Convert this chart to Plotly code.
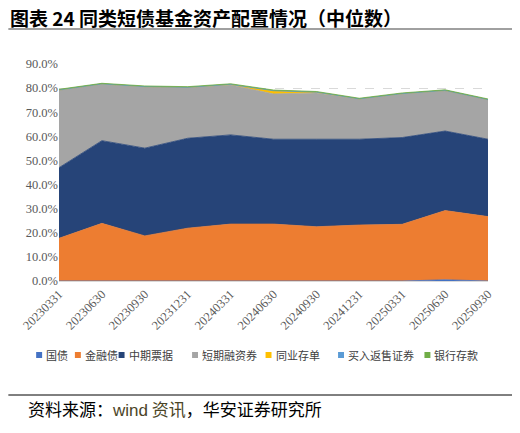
import plotly.graph_objects as go

dates = ["20230331", "20230630", "20230930", "20231231", "20240331", "20240630",
         "20240930", "20241231", "20250331", "20250630", "20250930"]

# median allocation, percent
guozhai = [0.0, 0.0, 0.0, 0.0, 0.0, 0.0, 0.0, 0.0, 0.0, 0.5, 0.0]
jinrongzhai = [17.7, 23.9, 18.7, 21.9, 23.6, 23.6, 22.5, 23.2, 23.5, 28.7, 26.7]
zhongqi = [29.3, 34.3, 36.4, 37.3, 37.0, 35.2, 36.3, 35.6, 36.0, 33.0, 32.1]
duanrong = [32.2, 23.5, 25.5, 21.1, 20.7, 18.8, 19.2, 16.7, 18.2, 16.8, 16.4]
tongye = [0.0, 0.0, 0.0, 0.0, 0.2, 1.3, 0.3, 0.0, 0.0, 0.0, 0.0]
maifan = [0.0, 0.0, 0.0, 0.0, 0.0, 0.0, 0.0, 0.0, 0.0, 0.0, 0.0]
cunkuan = [0.3, 0.3, 0.3, 0.3, 0.3, 0.3, 0.3, 0.3, 0.3, 0.3, 0.3]

names = ["国债", "金融债", "中期票据", "短期融资券", "同业存单", "买入返售证券", "银行存款"]
colors = ["#4472C4", "#ED7D31", "#264478", "#A5A5A5", "#FFC000", "#5B9BD5", "#70AD47"]
values = [guozhai, jinrongzhai, zhongqi, duanrong, tongye, maifan, cunkuan]

# page has an 8px body margin, so shift everything back by that
OFF = 8
# plot area in screen pixels
L, R, T, B = 56, 488, 64, 281
W, H = 520, 433


def px(x):
    return (x - L) / (R - L)


def py(y):
    return (B - y) / (B - T)


fig = go.Figure()
for name, vals, col in zip(names, values, colors):
    fig.add_trace(go.Scatter(
        x=dates, y=[v / 100 for v in vals], name=name, mode="lines",
        stackgroup="one", line=dict(width=0.8, color=col), fillcolor=col))

fig.update_layout(
    width=W, height=H,
    margin=dict(l=L - OFF, r=W - R + OFF, t=T - OFF, b=H - B + OFF),
    paper_bgcolor="white", plot_bgcolor="white",
    showlegend=False,
    xaxis=dict(type="category", range=[0, 10], tickangle=-45,
               showline=True, linecolor="#D9D9D9", linewidth=1,
               showgrid=False, ticks="",
               tickfont=dict(family="Liberation Serif", size=12.5, color="#595959")),
    yaxis=dict(range=[0, 0.9], dtick=0.1, tickformat=".1%",
               showgrid=True, gridcolor="#D9D9D9", griddash="dash",
               zeroline=False, showline=False,
               tickfont=dict(family="Liberation Serif", size=12.5, color="#595959")),
)

# legend drawn by hand, one row like the original
leg_x = [33, 72, 116, 190, 264, 337, 424]
for name, col, x0 in zip(names, colors, leg_x):
    fig.add_shape(type="rect", xref="paper", yref="paper",
                  x0=px(x0), x1=px(x0 + 6), y0=py(358), y1=py(352),
                  fillcolor=col, line=dict(width=0))
    fig.add_annotation(text=name, xref="paper", yref="paper",
                       x=px(x0 + 8), y=py(355), xanchor="left", yanchor="middle",
                       showarrow=False,
                       font=dict(family="Noto Sans CJK SC", size=11, color="#404040"))

fig.add_annotation(text="<b>图表 24 同类短债基金资产配置情况（中位数）</b>",
                   xref="paper", yref="paper", x=px(5), y=py(17.5),
                   xanchor="left", yanchor="middle", showarrow=False,
                   font=dict(family="Noto Sans CJK SC", size=19, color="#000000"))
fig.add_shape(type="line", xref="paper", yref="paper", x0=px(5), x1=px(515),
              y0=py(29), y1=py(29), line=dict(color="#808080", width=1.5))
fig.add_shape(type="line", xref="paper", yref="paper", x0=px(5), x1=px(514),
              y0=py(395), y1=py(395), line=dict(color="#000000", width=1))
fig.add_annotation(text="资料来源：<span style='color:#4B4527'>"
                        "<span style='font-family:Liberation Sans'>wind</span> 资讯</span>，华安证券研究所",
                   xref="paper", yref="paper", x=px(23), y=py(408),
                   xanchor="left", yanchor="middle", showarrow=False,
                   font=dict(family="Noto Sans CJK SC", size=17, color="#000000"))

fig.write_html("out.html")
